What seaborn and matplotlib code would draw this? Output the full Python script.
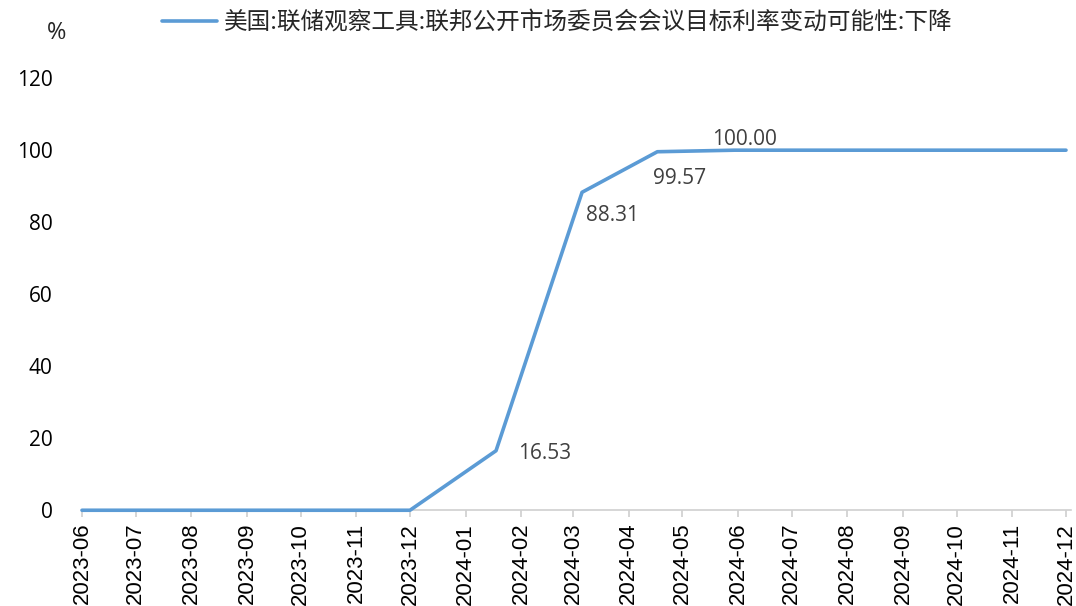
import pandas as pd
import matplotlib
matplotlib.use("Agg")
import matplotlib.pyplot as plt
import matplotlib.dates as mdates
import seaborn as sns

# data
dates = ["2023-06-01", "2023-07-01", "2023-08-01", "2023-09-01", "2023-10-01",
         "2023-11-01", "2023-12-01", "2024-01-18", "2024-03-06", "2024-04-17",
         "2024-05-30", "2024-07-01", "2024-08-01", "2024-09-01", "2024-10-01",
         "2024-11-01", "2024-12-01"]
prob_cut = [0, 0, 0, 0, 0, 0, 0, 16.53, 88.31, 99.57,
            100.00, 100, 100, 100, 100, 100, 100]
# label offsets (points) for the annotated values
labeled = {"2024-01-18": (16.53, 16, -2), "2024-03-06": (88.31, 3, -17),
           "2024-04-17": (99.57, -3, -19), "2024-05-30": (100.00, -16, 8)}
series_name = "美国:联储观察工具:联邦公开市场委员会会议目标利率变动可能性:下降"

df = pd.DataFrame({"date": pd.to_datetime(dates), "value": prob_cut})

sns.set_theme(style="white")
plt.rcParams["font.family"] = ["Noto Sans CJK SC", "DejaVu Sans"]

fig = plt.figure(figsize=(10.76, 6.06), dpi=100)
ax = fig.add_axes([0.0762, 0.158, 0.9195, 0.713])

sns.lineplot(data=df, x="date", y="value", ax=ax, color="#5B9BD5",
             linewidth=2.6, label=series_name, zorder=5, clip_on=False)

for d, (v, dx, dy) in labeled.items():
    ax.annotate(f"{v:.2f}", (pd.Timestamp(d), v), xytext=(dx, dy),
                textcoords="offset points", fontsize=15, color="#404040",
                family=["Open Sans", "DejaVu Sans"], va="center")

ax.set_xlim(pd.Timestamp("2023-06-01"), pd.Timestamp("2024-12-04"))
ax.set_ylim(0, 120)
ax.set_yticks(range(0, 121, 20))
ax.xaxis.set_major_locator(mdates.MonthLocator())
ax.xaxis.set_major_formatter(mdates.DateFormatter("%Y-%m"))
for lbl in ax.get_xticklabels():
    lbl.set_rotation(90)
    lbl.set_family(["Liberation Sans", "DejaVu Sans"])
    lbl.set_fontsize(16)
    lbl.set_color("#000000")
for lbl in ax.get_yticklabels():
    lbl.set_family(["Open Sans", "DejaVu Sans"])
    lbl.set_fontsize(15)
    lbl.set_color("#000000")

ax.set_xlabel("")
ax.set_ylabel("")
for s in ["left", "right", "top"]:
    ax.spines[s].set_visible(False)
ax.spines["bottom"].set_color("#D0D0D0")
ax.spines["bottom"].set_linewidth(1.2)
ax.tick_params(axis="x", bottom=True, length=5, color="#D0D0D0", pad=4)
ax.tick_params(axis="y", left=False, pad=15)

fig.text(0.053, 0.945, "%", fontsize=17, ha="center", va="center",
         family=["Open Sans", "DejaVu Sans"])
ax.legend(loc="center", bbox_to_anchor=(0.518, 0.963), bbox_transform=fig.transFigure,
          frameon=False, fontsize=17, handlelength=2.3, handletextpad=0.3)

fig.savefig("out.png", dpi=100)
